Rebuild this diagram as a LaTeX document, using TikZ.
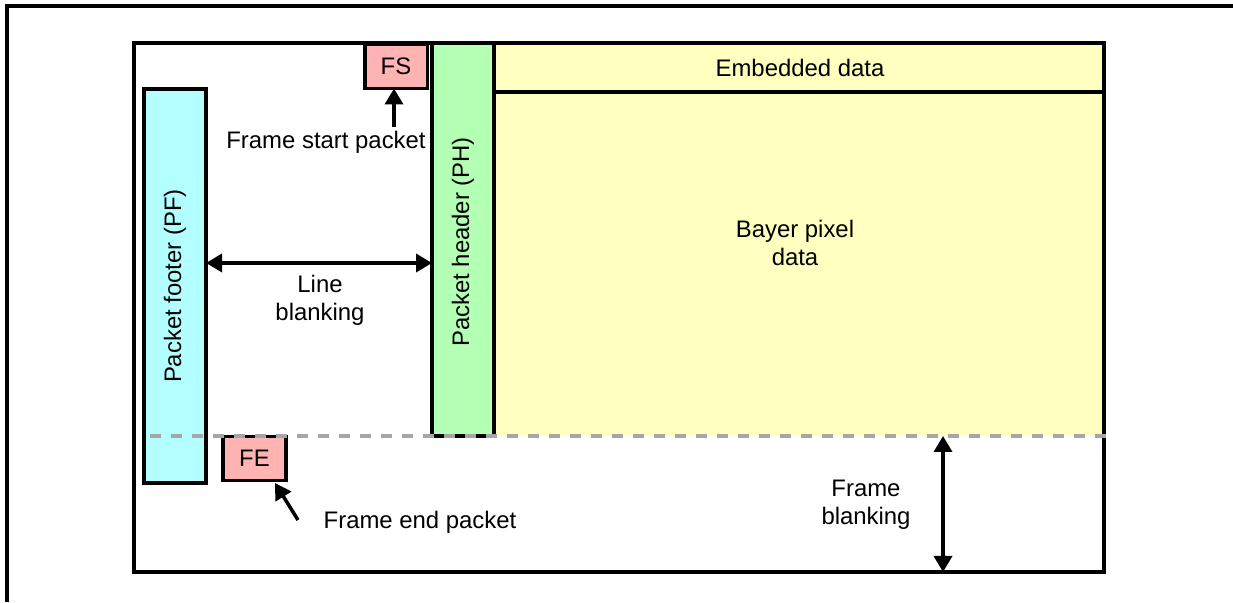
\documentclass[tikz,border=0pt]{standalone}
\usepackage{fontspec}
\setmainfont{Liberation Sans}
\usetikzlibrary{arrows.meta}
\definecolor{pfcyan}{HTML}{B3FFFF}
\definecolor{phgreen}{HTML}{B3FFB3}
\definecolor{datayellow}{HTML}{FFFFC0}
\definecolor{pktpink}{HTML}{FFB3B3}
\definecolor{dashgray}{HTML}{A6A6A6}
\begin{document}
\begin{tikzpicture}[inner sep=0pt,outer sep=0pt,line width=2pt,
font=\fontsize{13.6}{16}\selectfont,
pktblock/.style={draw,rectangle,fill=pktpink,minimum width=1.25cm,minimum height=0.88cm,line width=2pt},
dimarrow/.style={{Triangle[width=0.36cm,length=0.32cm]}-{Triangle[width=0.36cm,length=0.32cm]}},
ptrarrow/.style={-{Triangle[width=0.36cm,length=0.32cm]}}]
\useasboundingbox (0,0) rectangle (24.66,12.04);

% outer frame (cut by the page)
\draw (0.14,0) -- (0.14,11.92) -- (24.66,11.92);

% frame area
\fill[datayellow] (9.88,3.32) rectangle (22.08,11.18);
\draw (2.68,0.6) rectangle (22.08,11.18);
\draw (9.88,10.2) -- (22.08,10.2);
\draw (16.0,10.68) node (emb) {Embedded data};
\draw (15.9,7.18) node[align=center] (bayer) {Bayer pixel\\data};

% packet header and footer
\draw[fill=phgreen] (8.64,3.32) rectangle (9.88,11.18);
\draw (9.26,7.2) node[rotate=90] (PH) {Packet header (PH)};
\draw (2.88,2.38) node[draw,fill=pfcyan,anchor=south west,minimum width=1.24cm,minimum height=7.88cm] (PFbox) {};
\draw (PFbox.center) node[rotate=90] (PF) {Packet footer (PF)};
\coordinate (PHwest) at (8.64,6.78);

% frame start / end packets
\draw (7.92,10.71) node[pktblock] (FS) {FS};
\draw (5.09,2.87) node[pktblock] (FE) {FE};

\draw[dashgray,dash pattern=on 0.22cm off 0.2cm] (3.0,3.32) -- (22.2,3.32);

\draw (6.52,9.2) node (fslabel) {Frame start packet};
\draw[ptrarrow] (7.88,9.5) -- (FS.south -| 7.88,0);
\draw (8.4,1.6) node (felabel) {Frame end packet};
\coordinate (feptr) at (5.96,1.64);
\draw[ptrarrow] (feptr) -- (5.5,2.38);

% blanking
\draw[dimarrow] (PFbox.east |- PHwest) -- (PHwest);
\draw (6.4,6.04) node[align=center] (lineblank) {Line\\blanking};
\coordinate (fbtop) at (18.86,3.32);
\coordinate (fbbot) at (18.86,0.6);
\draw[dimarrow] (fbbot) -- (fbtop);
\draw (17.32,1.95) node[align=center] (frameblank) {Frame\\blanking};
\end{tikzpicture}
\end{document}
